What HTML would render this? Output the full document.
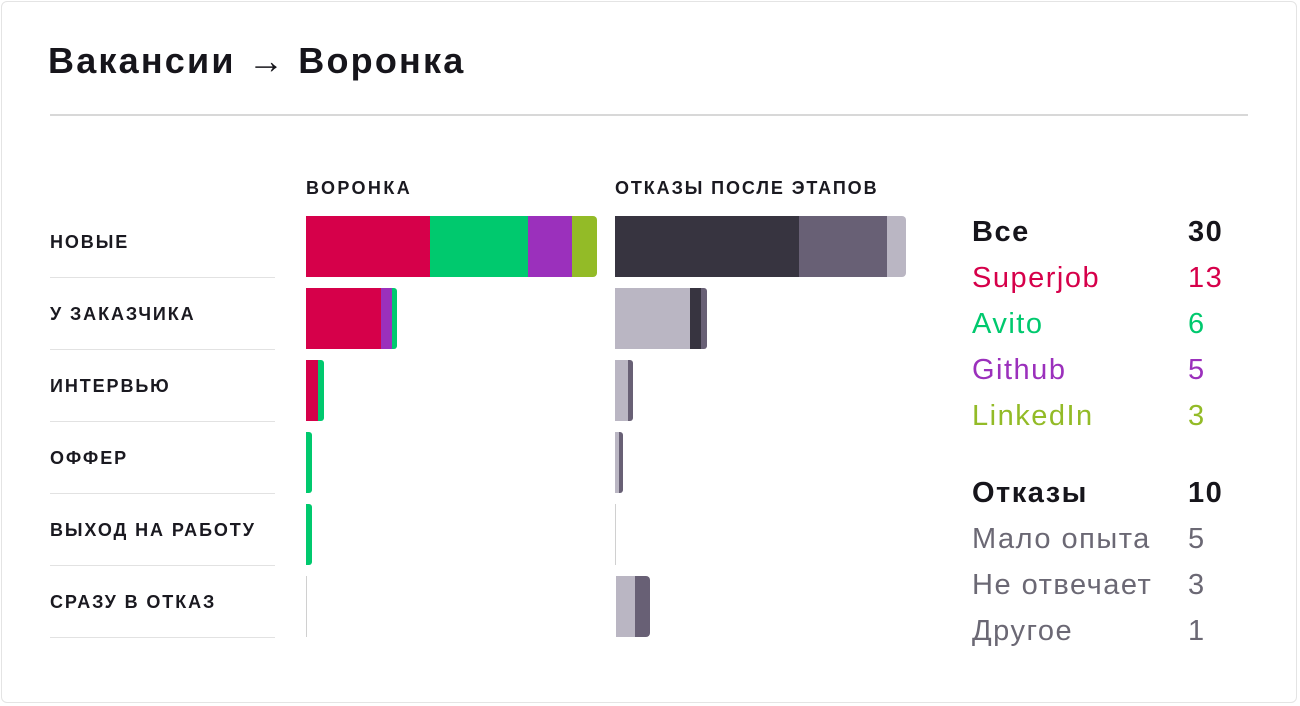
<!DOCTYPE html>
<html><head><meta charset="utf-8"><style>
body{margin:0;width:1300px;height:706px;background:#fff;font-family:"Liberation Sans","DejaVu Sans",sans-serif;overflow:hidden;position:relative}
.card{position:absolute;left:1px;top:1px;width:1296px;height:702px;border:1px solid #e4e4e4;border-radius:6px;box-sizing:border-box}
.t{position:absolute;white-space:nowrap}
.b{position:absolute}
.lbl{position:absolute;left:50px;font-weight:bold;font-size:18px;color:#1a1920;letter-spacing:1.9px;white-space:nowrap}
.sep{position:absolute;left:50px;width:225px;height:1px;background:#e2e2e2}
.lg{position:absolute;font-size:29px;white-space:nowrap;letter-spacing:1.5px}
</style></head><body>
<div class="card"></div>
<div class="t" style="left:48px;top:40px;font-size:36px;font-weight:bold;color:#16151b;letter-spacing:2.2px">Вакансии → Воронка</div>
<div class="b" style="left:50px;top:114px;width:1198px;height:2px;background:#d8d8d8"></div>
<div class="t" style="left:306px;top:178px;font-size:18px;font-weight:bold;color:#1a1920;letter-spacing:2.4px">ВОРОНКА</div>
<div class="t" style="left:615px;top:178px;font-size:18px;font-weight:bold;color:#1a1920;letter-spacing:1.9px">ОТКАЗЫ ПОСЛЕ ЭТАПОВ</div>

<div class="lbl" style="top:232px">НОВЫЕ</div><div class="sep" style="top:277px"></div>
<div class="lbl" style="top:304px">У ЗАКАЗЧИКА</div><div class="sep" style="top:349px"></div>
<div class="lbl" style="top:376px">ИНТЕРВЬЮ</div><div class="sep" style="top:421px"></div>
<div class="lbl" style="top:448px">ОФФЕР</div><div class="sep" style="top:493px"></div>
<div class="lbl" style="top:520px">ВЫХОД НА РАБОТУ</div><div class="sep" style="top:565px"></div>
<div class="lbl" style="top:592px">СРАЗУ В ОТКАЗ</div><div class="sep" style="top:637px"></div>

<!-- row1 -->
<div class="b" style="left:306px;top:216px;width:291px;height:61px;border-radius:0 4px 4px 0;overflow:hidden;display:flex">
<div style="width:124px;background:#d6004a"></div><div style="width:98px;background:#00c96e"></div><div style="width:44px;background:#9b30bc"></div><div style="flex:1;background:#93bb27"></div></div>
<div class="b" style="left:615px;top:216px;width:291px;height:61px;border-radius:0 4px 4px 0;overflow:hidden;display:flex">
<div style="width:184px;background:#373440"></div><div style="width:88px;background:#686075"></div><div style="flex:1;background:#bab6c3"></div></div>
<!-- row2 -->
<div class="b" style="left:306px;top:288px;width:91px;height:61px;border-radius:0 3px 3px 0;overflow:hidden;display:flex">
<div style="width:75px;background:#d6004a"></div><div style="width:11px;background:#9b30bc"></div><div style="flex:1;background:#00c96e"></div></div>
<div class="b" style="left:615px;top:288px;width:92px;height:61px;border-radius:0 3px 3px 0;overflow:hidden;display:flex">
<div style="width:75px;background:#bab6c3"></div><div style="width:11px;background:#373440"></div><div style="flex:1;background:#686075"></div></div>
<!-- row3 -->
<div class="b" style="left:306px;top:360px;width:18px;height:61px;border-radius:0 3px 3px 0;overflow:hidden;display:flex">
<div style="width:12px;background:#d6004a"></div><div style="flex:1;background:#00c96e"></div></div>
<div class="b" style="left:615px;top:360px;width:18px;height:61px;border-radius:0 3px 3px 0;overflow:hidden;display:flex">
<div style="width:13px;background:#bab6c3"></div><div style="flex:1;background:#686075"></div></div>
<!-- row4 -->
<div class="b" style="left:306px;top:432px;width:6px;height:61px;border-radius:0 3px 3px 0;background:#00c96e"></div>
<div class="b" style="left:615px;top:432px;width:8px;height:61px;border-radius:0 3px 3px 0;overflow:hidden;display:flex">
<div style="width:4px;background:#bab6c3"></div><div style="flex:1;background:#686075"></div></div>
<!-- row5 -->
<div class="b" style="left:306px;top:504px;width:6px;height:61px;border-radius:0 3px 3px 0;background:#00c96e"></div>
<div class="b" style="left:615px;top:504px;width:1px;height:61px;background:#d0d0d0"></div>
<!-- row6 -->
<div class="b" style="left:306px;top:576px;width:1px;height:61px;background:#d0d0d0"></div>
<div class="b" style="left:616px;top:576px;width:34px;height:61px;border-radius:0 4px 4px 0;overflow:hidden;display:flex">
<div style="width:19px;background:#bab6c3"></div><div style="flex:1;background:#686075"></div></div>

<!-- legend -->
<div class="lg" style="left:972px;top:216px;font-weight:bold;color:#16151b">Все</div>
<div class="lg" style="left:1188px;top:216px;font-weight:bold;color:#16151b">30</div>
<div class="lg" style="left:972px;top:262px;color:#d6004a">Superjob</div>
<div class="lg" style="left:1188px;top:262px;color:#d6004a">13</div>
<div class="lg" style="left:972px;top:308px;color:#00c96e">Avito</div>
<div class="lg" style="left:1188px;top:308px;color:#00c96e">6</div>
<div class="lg" style="left:972px;top:354px;color:#9b30bc">Github</div>
<div class="lg" style="left:1188px;top:354px;color:#9b30bc">5</div>
<div class="lg" style="left:972px;top:400px;color:#93bb27">LinkedIn</div>
<div class="lg" style="left:1188px;top:400px;color:#93bb27">3</div>
<div class="lg" style="left:972px;top:477px;font-weight:bold;color:#16151b">Отказы</div>
<div class="lg" style="left:1188px;top:477px;font-weight:bold;color:#16151b">10</div>
<div class="lg" style="left:972px;top:523px;color:#6b6874">Мало опыта</div>
<div class="lg" style="left:1188px;top:523px;color:#6b6874">5</div>
<div class="lg" style="left:972px;top:569px;color:#6b6874">Не отвечает</div>
<div class="lg" style="left:1188px;top:569px;color:#6b6874">3</div>
<div class="lg" style="left:972px;top:615px;color:#6b6874">Другое</div>
<div class="lg" style="left:1188px;top:615px;color:#6b6874">1</div>
</body></html>
